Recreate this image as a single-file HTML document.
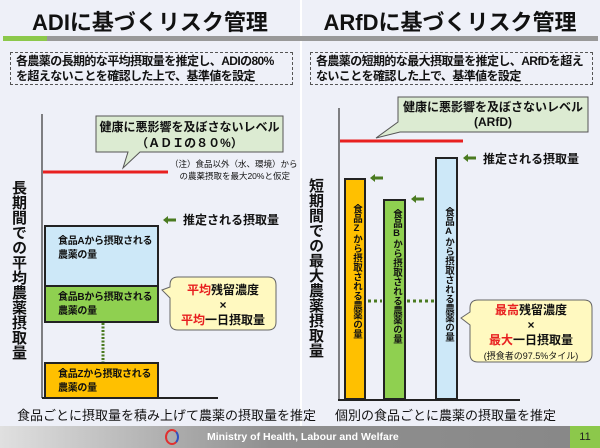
<!DOCTYPE html>
<html><head><meta charset="utf-8"><style>
*{margin:0;padding:0;box-sizing:border-box}
body{width:600px;height:448px;position:relative;overflow:hidden;background:#eef0f8;font-family:"Liberation Sans","Noto Sans CJK JP",sans-serif;font-weight:bold;color:#111}
.a{position:absolute}
.t{font-size:22px;text-align:center;white-space:nowrap}
.dash{border:1.3px dashed #555;font-size:12px;line-height:15px;padding:1px 5px;white-space:nowrap;letter-spacing:-0.6px}
.vt{writing-mode:vertical-rl;text-orientation:upright;white-space:nowrap}
.box{border:2px solid #222;font-size:10px;line-height:14px;padding:8px 0 0 12px;white-space:nowrap;letter-spacing:-0.3px}
</style></head><body>
<div class="a" style="left:300px;top:0;width:2px;height:426px;background:#fff"></div>
<div class="a t" style="left:0;top:5px;width:300px">ADIに基づくリスク管理</div>
<div class="a t" style="left:300px;top:5px;width:300px">ARfDに基づくリスク管理</div>
<div class="a" style="left:3px;top:36px;width:595px;height:5px;background:#999"></div>
<div class="a" style="left:3px;top:36px;width:44px;height:5px;background:#8cc84b"></div>
<div class="a dash" style="left:10px;top:52px;width:283px;height:33px">各農薬の長期的な平均摂取量を推定し、ADIの80%<br>を超えないことを確認した上で、基準値を設定</div>
<div class="a dash" style="left:310px;top:52px;width:283px;height:33px">各農薬の短期的な最大摂取量を推定し、ARfDを超え<br>ないことを確認した上で、基準値を設定</div>

<svg class="a" style="left:0;top:0" width="600" height="448">
<line x1="42" y1="398" x2="42" y2="114" stroke="#333" stroke-width="1.2"/>
<line x1="42" y1="398" x2="218" y2="398" stroke="#222" stroke-width="2"/>
<line x1="43" y1="172" x2="168" y2="172" stroke="#e82020" stroke-width="3"/>
<path d="M96,116 H283 V152 H140 L123,168 L128,152 H96 Z" fill="#dcebd2" stroke="#555"/>
<line x1="339" y1="400" x2="339" y2="108" stroke="#333" stroke-width="1.2"/>
<line x1="338" y1="400" x2="520" y2="400" stroke="#222" stroke-width="2"/>
<line x1="340" y1="141" x2="463" y2="141" stroke="#e82020" stroke-width="3"/>
<path d="M398,97 H588 V132 H400 L376,138 L398,122 Z" fill="#dcebd2" stroke="#555"/>
<line x1="103" y1="323" x2="103" y2="362" stroke="#4a7a20" stroke-width="3" stroke-dasharray="2,1.5"/>
<line x1="368" y1="301" x2="382" y2="301" stroke="#4a7a20" stroke-width="3" stroke-dasharray="3,3"/>
<line x1="407" y1="301" x2="435" y2="301" stroke="#4a7a20" stroke-width="3" stroke-dasharray="3,3"/>
<path d="M178,277 H268 Q276,277 276,285 V322 Q276,330 268,330 H178 Q170,330 170,322 V298 L162,290 L170,287 V285 Q170,277 178,277 Z" fill="#fff9c0" stroke="#666"/>
<path d="M478,300 H584 Q592,300 592,308 V354 Q592,362 584,362 H478 Q470,362 470,354 V325 L461,318 L470,312 V308 Q470,300 478,300 Z" fill="#fff9c0" stroke="#666"/>
<g fill="#4a7a20">
<path d="M163,220 L168,216 V218.5 H176 V221.5 H168 V224 Z"/>
<path d="M463,158 L468,154 V156.5 H476 V159.5 H468 V162 Z"/>
<path d="M370,178 L375,174 V176.5 H383 V179.5 H375 V182 Z"/>
<path d="M411,199 L416,195 V197.5 H424 V200.5 H416 V203 Z"/>
</g>
</svg>

<div class="a" style="left:96px;top:119px;width:187px;text-align:center;font-size:12px;line-height:16px">健康に悪影響を及ぼさないレベル<br>（ＡＤＩの８０%）</div>
<div class="a" style="left:398px;top:100px;width:190px;text-align:center;font-size:12px;line-height:15px">健康に悪影響を及ぼさないレベル<br>(ARfD)</div>
<div class="a" style="left:170px;top:158px;font-size:8.5px;font-weight:normal;line-height:12px;white-space:nowrap">（注）食品以外（水、環境）から<br>&nbsp;&nbsp;&nbsp;&nbsp;の農薬摂取を最大20%と仮定</div>

<div class="a vt" style="left:9px;top:180px;font-size:15px;line-height:18px">長期間での平均農薬摂取量</div>
<div class="a vt" style="left:306px;top:178px;font-size:15px;line-height:18px">短期間での最大農薬摂取量</div>

<div class="a" style="left:183px;top:211px;font-size:12px">推定される摂取量</div>
<div class="a" style="left:483px;top:150px;font-size:12px">推定される摂取量</div>

<div class="a box" style="left:44px;top:225px;width:115px;height:62px;background:#cde8f8">食品Aから摂取される<br>農薬の量</div>
<div class="a box" style="left:44px;top:285px;width:115px;height:38px;background:#8fd050;padding-top:4px">食品Bから摂取される<br>農薬の量</div>
<div class="a box" style="left:44px;top:362px;width:115px;height:37px;background:#ffc000;padding-top:4px">食品Zから摂取される<br>農薬の量</div>

<div class="a" style="left:170px;top:283px;width:106px;text-align:center;font-size:12px;line-height:15px"><span style="color:#e82020">平均</span>残留濃度<br>×<br><span style="color:#e82020">平均</span>一日摂取量</div>
<div class="a" style="left:470px;top:303px;width:122px;text-align:center;font-size:12px;line-height:15px"><span style="color:#e82020">最高</span>残留濃度<br>×<br><span style="color:#e82020">最大</span>一日摂取量<br><span style="font-size:9px;font-weight:normal">(摂食者の97.5%タイル)</span></div>

<div class="a" style="left:344px;top:178px;width:22px;height:222px;background:#ffc000;border:2px solid #222"><div class="vt" style="font-size:9.5px;margin:24px 0 0 3px">食品Zから摂取される農薬の量</div></div>
<div class="a" style="left:383px;top:199px;width:23px;height:201px;background:#8fd050;border:2px solid #222"><div class="vt" style="font-size:9.5px;margin:8px 0 0 4px">食品Bから摂取される農薬の量</div></div>
<div class="a" style="left:435px;top:157px;width:23px;height:243px;background:#cde8f8;border:2px solid #222"><div class="vt" style="font-size:9.5px;margin:48px 0 0 4px">食品Aから摂取される農薬の量</div></div>

<div class="a" style="left:17px;top:405px;font-size:13px;font-weight:normal;white-space:nowrap">食品ごとに摂取量を積み上げて農薬の摂取量を推定</div>
<div class="a" style="left:335px;top:405px;font-size:13px;font-weight:normal;white-space:nowrap">個別の食品ごとに農薬の摂取量を推定</div>

<div class="a" style="left:0;top:426px;width:600px;height:22px;background:linear-gradient(to right,#e0e0e0,#909090 45%,#888 95%)"></div>
<div class="a" style="left:165px;top:429px;width:14px;height:16px;border:2px solid #e03030;border-radius:50%;border-right-color:#3050c0"></div>
<div class="a" style="left:207px;top:431px;color:#fff;font-size:10.5px;white-space:nowrap">Ministry of Health, Labour and Welfare</div>
<div class="a" style="left:570px;top:426px;width:30px;height:22px;background:#8cc84b;color:#222;font-size:11px;font-weight:normal;text-align:center;line-height:22px">11</div>
</body></html>
